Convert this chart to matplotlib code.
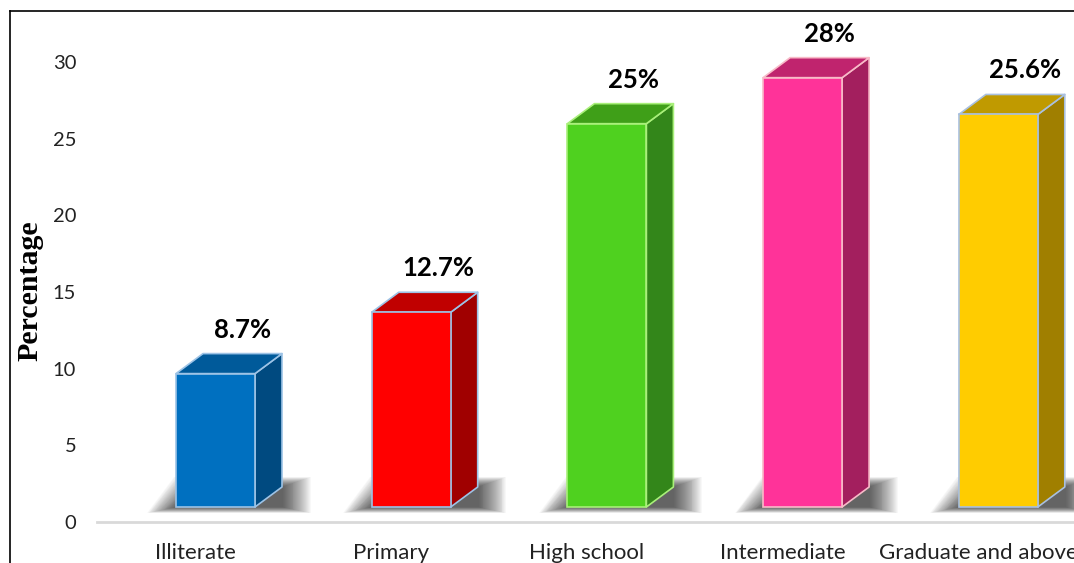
import matplotlib
matplotlib.use('Agg')
import matplotlib.pyplot as plt
from matplotlib.patches import Polygon
from matplotlib.lines import Line2D

# ---- data ----
categories = ['Illiterate', 'Primary', 'High school', 'Intermediate', 'Graduate and above']
values = [8.7, 12.7, 25, 28, 25.6]
value_labels = ['8.7%', '12.7%', '25%', '28%', '25.6%']
yticks = [0, 5, 10, 15, 20, 25, 30]

# ---- styles ----
front_colors = ['#0070C0', '#FF0000', '#4FD11F', '#FF3399', '#FFCC00']
top_colors = ['#005A9A', '#C00000', '#3F9F18', '#C0246E', '#C09A00']
side_colors = ['#004A80', '#A00000', '#33861A', '#A31F5E', '#A07F00']
edge_colors = ['#9DC3E6', '#9DC3E6', '#A9F07A', '#F8BBC8', '#A9C0E0']

W, H = 1074, 563
fig = plt.figure(figsize=(W / 100, H / 100), dpi=100)
ax_left, ax_bottom_px, ax_top_px = 97, 522, 11
ax = fig.add_axes([ax_left / W, 1 - ax_bottom_px / H, (W - ax_left) / W,
                   (ax_bottom_px - ax_top_px) / H])
px_per_y = 460 / 30
ax.set_ylim(0, (ax_bottom_px - ax_top_px) / px_per_y)
px_per_x = 195.7
x0_px = 195.5
ax.set_xlim((ax_left - x0_px) / px_per_x, (W - x0_px) / px_per_x)

off = -19.5 / px_per_x
w = 79 / px_per_x
dx = 27 / px_per_x
dy = 20 / px_per_y
base = 15 / px_per_y

n_layers = 30
for i, v in enumerate(values):
    xl = i + off
    xr = xl + w
    yb = base
    yt = base + v
    # soft shadow (stacked translucent layers)
    for k in range(n_layers):
        e = (1 + 0.95 * k) / px_per_x
        ev = (0.5 + 0.33 * k) / px_per_y
        shadow = [(xl - e, yb - 0.6 * ev), (xr + dx + e, yb - 0.6 * ev),
                  (xr + dx + e, yb + dy + ev), (xl + dx - e, yb + dy + ev)]
        ax.add_patch(Polygon(shadow, closed=True, facecolor='black', edgecolor='none',
                             alpha=0.028, zorder=1, joinstyle='round'))
    side = [(xr, yb), (xr + dx, yb + dy), (xr + dx, yt + dy), (xr, yt)]
    top = [(xl, yt), (xr, yt), (xr + dx, yt + dy), (xl + dx, yt + dy)]
    ax.add_patch(Polygon(side, closed=True, facecolor=side_colors[i],
                         edgecolor=edge_colors[i], lw=1.2, zorder=3, joinstyle='round'))
    ax.add_patch(Polygon(top, closed=True, facecolor=top_colors[i],
                         edgecolor=edge_colors[i], lw=1.2, zorder=3, joinstyle='round'))
    ax.bar(xl, v, width=w, bottom=yb, align='edge', color=front_colors[i],
           edgecolor=edge_colors[i], lw=1.2, zorder=4)
    ax.text(xl + w / 2 + dx, yt + dy + 16 / px_per_y, value_labels[i],
            ha='center', va='baseline', fontsize=18.5, fontweight='bold',
            family='Lato', color='black', zorder=5)

ax.set_xticks(range(len(categories)))
ax.set_xticklabels(categories, fontsize=16, family='Lato', color='#222222')
ax.set_yticks(yticks)
ax.set_yticklabels([str(t) for t in yticks], fontsize=14.5, family='Lato', color='#222222')
ax.tick_params(axis='both', length=0)
ax.tick_params(axis='y', pad=15)
ax.tick_params(axis='x', pad=15)
for s in ['left', 'right', 'top']:
    ax.spines[s].set_visible(False)
ax.spines['bottom'].set_color('#D9D9D9')
ax.spines['bottom'].set_linewidth(2)
ax.set_ylabel('Percentage', fontsize=21.5, fontweight='bold', family='Liberation Serif')
ax.yaxis.set_label_coords((43 - ax_left) / (W - ax_left), (ax_bottom_px - 290.5) / (ax_bottom_px - ax_top_px))

# outer frame lines (chart border)
fig.add_artist(Line2D([9.5 / W, 9.5 / W], [0, 1 - 11 / H], color='black', lw=1.2))
fig.add_artist(Line2D([9.5 / W, 1], [1 - 11 / H, 1 - 11 / H], color='black', lw=1.2))

fig.savefig('out.png', dpi=100)
